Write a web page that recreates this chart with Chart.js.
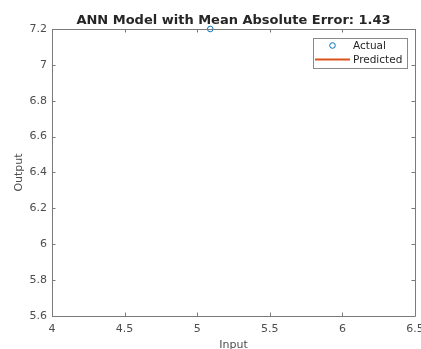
<!DOCTYPE html>
<html><head><meta charset="utf-8">
<script src="https://cdn.jsdelivr.net/npm/chart.js@4"></script>
<style>html,body{margin:0;padding:0;background:#fff}#wrap{width:421px;height:349px}</style>
</head><body><div id="wrap"><canvas id="c" width="421" height="349"></canvas></div>
<script>
const actualX = [5.09];
const actualY = [7.2];
const predictedX = [];
const predictedY = [];
const xTicks = [4, 4.5, 5, 5.5, 6, 6.5];
const yTicks = [5.6, 5.8, 6, 6.2, 6.4, 6.6, 6.8, 7, 7.2];
const titleText = 'ANN Model with Mean Absolute Error: 1.43';
const seriesNames = ['Actual', 'Predicted'];

const FONT = "'DejaVu Sans', sans-serif";
const AXIS = '#7a7a7a';
const LABEL = '#4d4d4d';
const fmt = v => String(Math.round(v * 10) / 10);

const boxPlugin = {
  id: 'matlabBox',
  afterDraw(chart) {
    const ctx = chart.ctx, a = chart.chartArea;
    const xs = chart.scales.x, ys = chart.scales.y;
    ctx.save();
    ctx.strokeStyle = AXIS; ctx.lineWidth = 1;
    ctx.beginPath();
    ctx.rect(Math.round(a.left) + 0.5, Math.round(a.top) + 0.5, Math.round(a.right - a.left), Math.round(a.bottom - a.top));
    const tl = 3.5;
    xTicks.forEach(v => {
      const px = Math.round(xs.getPixelForValue(v)) + 0.5;
      ctx.moveTo(px, a.bottom); ctx.lineTo(px, a.bottom - tl);
      ctx.moveTo(px, a.top); ctx.lineTo(px, a.top + tl);
    });
    yTicks.forEach(v => {
      const py = Math.round(ys.getPixelForValue(v)) + 0.5;
      ctx.moveTo(a.left, py); ctx.lineTo(a.left + tl, py);
      ctx.moveTo(a.right, py); ctx.lineTo(a.right - tl, py);
    });
    ctx.stroke();
    // legend
    const lx = 313.5, ly = 38.5, lw = 94, lh = 30;
    ctx.fillStyle = '#fff';
    ctx.fillRect(lx, ly, lw, lh);
    ctx.strokeStyle = '#8a8a8a';
    ctx.strokeRect(lx, ly, lw, lh);
    const ds = chart.data.datasets;
    ctx.strokeStyle = ds[0].borderColor; ctx.lineWidth = 1;
    ctx.beginPath(); ctx.arc(332.5, 45.5, 2.8, 0, Math.PI * 2); ctx.stroke();
    ctx.strokeStyle = ds[1].borderColor; ctx.lineWidth = 2;
    ctx.beginPath(); ctx.moveTo(315, 59.5); ctx.lineTo(350, 59.5); ctx.stroke();
    ctx.fillStyle = '#262626';
    ctx.font = "10.5px " + FONT;
    ctx.textBaseline = 'middle'; ctx.textAlign = 'left';
    ctx.fillText(seriesNames[0], 353, 46);
    ctx.fillText(seriesNames[1], 353, 60);
    ctx.restore();
  }
};

new Chart(document.getElementById('c'), {
  type: 'scatter',
  data: {
    datasets: [
      {
        label: seriesNames[0],
        data: actualX.map((x, i) => ({x, y: actualY[i]})),
        showLine: false,
        pointStyle: 'circle',
        pointRadius: 2.8,
        borderWidth: 1,
        borderColor: '#0072BD',
        backgroundColor: 'rgba(0,0,0,0)',
        clip: false
      },
      {
        label: seriesNames[1],
        data: predictedX.map((x, i) => ({x, y: predictedY[i]})),
        showLine: true,
        pointRadius: 0,
        borderWidth: 2,
        borderColor: '#D95319',
        backgroundColor: '#D95319'
      }
    ]
  },
  options: {
    responsive: false,
    animation: false,
    layout: { padding: { top: 0, right: 6, bottom: 0, left: 0 } },
    plugins: {
      legend: { display: false },
      tooltip: { enabled: false },
      title: {
        display: true,
        text: titleText,
        fullSize: false,
        color: '#262626',
        font: { family: FONT, size: 13, weight: 'bold', lineHeight: 1.2 },
        padding: { top: 12.4, bottom: 1.0 }
      }
    },
    scales: {
      x: {
        type: 'linear', min: 4, max: 6.5,
        afterBuildTicks: s => { s.ticks = xTicks.map(v => ({value: v})); },
        afterFit: s => { s.height = 33; s.paddingLeft = 0; s.paddingRight = 0; },
        grid: { display: false, drawTicks: false },
        border: { display: false },
        ticks: { color: LABEL, font: { family: FONT, size: 11 }, padding: 7, maxRotation: 0, autoSkip: false, callback: v => fmt(v) },
        title: { display: true, text: 'Input', color: LABEL, font: { family: FONT, size: 11, lineHeight: 1 }, padding: { top: 0, bottom: -1.5 } }
      },
      y: {
        type: 'linear', min: 5.6, max: 7.2,
        afterBuildTicks: s => { s.ticks = yTicks.map(v => ({value: v})); },
        afterFit: s => { s.width = 52; s.paddingTop = 0; s.paddingBottom = 0; },
        grid: { display: false, drawTicks: false },
        border: { display: false },
        ticks: { color: LABEL, font: { family: FONT, size: 11 }, padding: 5, autoSkip: false, callback: v => fmt(v) },
        title: { display: true, text: 'Output', color: LABEL, font: { family: FONT, size: 11, lineHeight: 1.2 }, padding: { top: 13, bottom: 0 } }
      }
    }
  },
  plugins: [boxPlugin]
});
</script>
</body></html>
